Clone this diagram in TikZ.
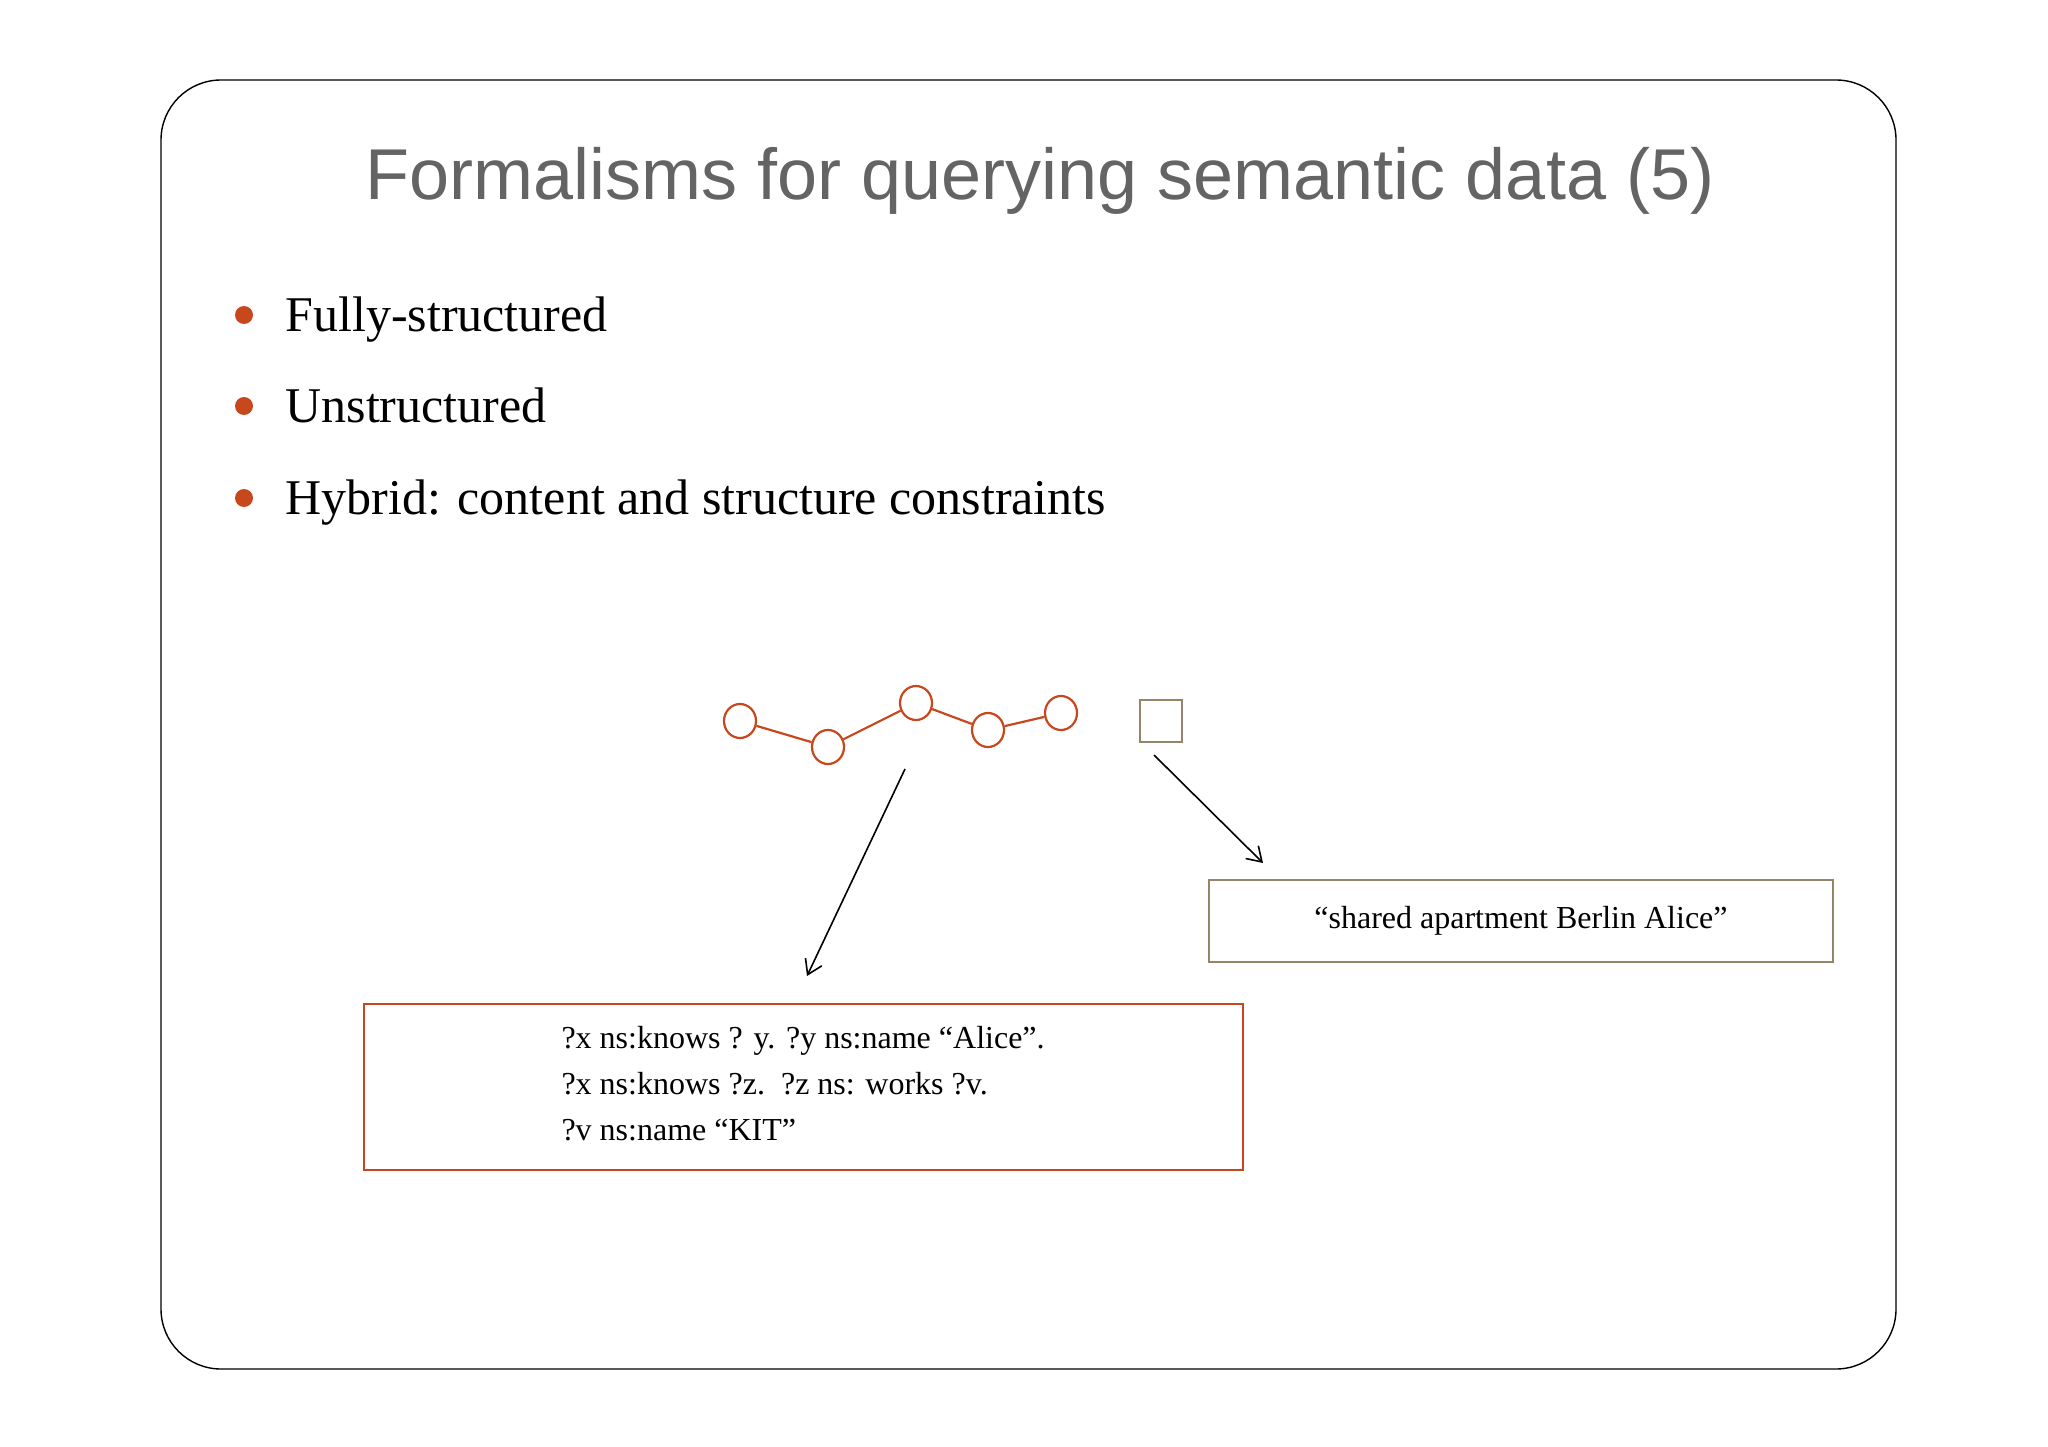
\documentclass[tikz,border=0pt]{standalone}
\usepackage{fontspec}
\setmainfont{Liberation Serif}
\setsansfont{Liberation Sans}
\definecolor{rust}{RGB}{200,72,30}
\definecolor{tan}{RGB}{150,132,105}
\definecolor{ttl}{RGB}{100,100,100}
\begin{document}
\begin{tikzpicture}[x=1pt,y=-1pt,
  gnode/.style={draw=rust,line width=2.2pt,ellipse,minimum width=32pt,minimum height=34pt,inner sep=0pt},
  bul/.style={circle,fill=rust,minimum size=18pt,inner sep=0pt},
  btext/.style={anchor=base west,font=\fontsize{50}{60}\selectfont},
  arr/.style={-{Straight Barb[length=14pt,width=18pt]},line width=1.6pt}]
\useasboundingbox (0,0) rectangle (2048,1447);
\usetikzlibrary{arrows.meta,shapes.geometric}
\draw[line width=1.4pt,rounded corners=60pt] (161,80) rectangle (1896,1369);
\node[font=\sffamily\fontsize{72}{80}\selectfont,text=ttl] (title) at (1040,181) {Formalisms for querying semantic data (5)};
\node[bul] (b1) at (244,315) {};
\node[bul] (b2) at (244,406) {};
\node[bul] (b3) at (244,498) {};
\node[btext] (t1) at (282,331) {Fully-structured};
\node[btext] (t2) at (282,422) {Unstructured};
\node[btext] (t3) at (282,514) {Hybrid: content and structure constraints};
\node[gnode] (c1) at (740,721) {};
\node[gnode] (c2) at (828,747) {};
\node[gnode] (c3) at (916,703) {};
\node[gnode] (c4) at (988,730) {};
\node[gnode] (c5) at (1061,713) {};
\draw[rust,line width=2.2pt] (c1)--(c2)--(c3)--(c4)--(c5);
\node[draw=tan,line width=2.2pt,minimum size=42pt,inner sep=0pt] (sq) at (1161,721) {};
\coordinate (a1s) at (905,769); \coordinate (a1e) at (807,976);
\coordinate (a2s) at (1154,755); \coordinate (a2e) at (1263,863);
\draw[arr] (a1s) -- (a1e);
\draw[arr] (a2s) -- (a2e);
\node[draw=tan,line width=2pt,minimum width=624pt,minimum height=82pt,font=\fontsize{32}{36}\selectfont] (rb) at (1521,921) {“shared apartment Berlin Alice”};
\node[draw=rust,line width=2.2pt,minimum width=879pt,minimum height=166pt] (lb) at (803.5,1087) {};
\node[anchor=base west,font=\fontsize{32}{36}\selectfont] (l1) at (558,1048) {?x ns:knows ? y. ?y ns:name “Alice”.};
\node[anchor=base west,font=\fontsize{32}{36}\selectfont] (l2) at (558,1094) {?x ns:knows ?z.\ \ ?z ns: works ?v.};
\node[anchor=base west,font=\fontsize{32}{36}\selectfont] (l3) at (558,1140) {?v ns:name “KIT”};
\end{tikzpicture}
\end{document}
